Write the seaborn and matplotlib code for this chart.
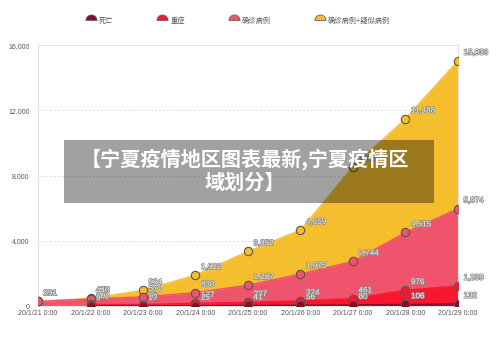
import numpy as np
import pandas as pd
import matplotlib
matplotlib.use("Agg")
import matplotlib.pyplot as plt
import matplotlib.patheffects as pe
from matplotlib.lines import Line2D
from matplotlib.path import Path
from matplotlib.patches import Rectangle
import seaborn as sns

# ---- data ----
dates = ["20/1/21 0:00", "20/1/22 0:00", "20/1/23 0:00", "20/1/24 0:00", "20/1/25 0:00",
         "20/1/26 0:00", "20/1/27 0:00", "20/1/28 0:00", "20/1/29 0:00"]
deaths = [np.nan, 9, 17, 25, 41, 56, 80, 106, 132]
severe = [np.nan, 102, 95, 177, 237, 324, 461, 976, 1239]
confirmed = [291, 440, 571, 830, 1287, 1975, 2744, 4515, 5974]
confirmed_suspected = [291, 477, 964, 1902, 3352, 4659, 8538, 11488, 15033]
series_names = ["死亡", "重症", "确诊病例", "确诊病例+疑似病例"]
y_ticks = [0, 4000, 8000, 12000, 16000]
title_lines = ["【宁夏疫情地区图表最新,宁夏疫情区", "域划分】"]

colors = {"死亡": "#8a0b28", "重症": "#f8172e", "确诊病例": "#f0546c", "确诊病例+疑似病例": "#f5be2c"}
values = {"死亡": deaths, "重症": severe, "确诊病例": confirmed, "确诊病例+疑似病例": confirmed_suspected}

sns.set_theme(style="white")
plt.rcParams["font.family"] = ["Liberation Sans", "Noto Sans CJK SC", "DejaVu Sans"]

fig = plt.figure(figsize=(5.0, 3.44), dpi=100)
ax = fig.add_axes([0.076, 0.110, 0.840, 0.759])

x = np.arange(len(dates))
draw_order = ["确诊病例+疑似病例", "确诊病例", "重症", "死亡"]
for i, name in enumerate(draw_order):
    v = np.array(values[name], dtype=float)
    ax.fill_between(x, 0, v, color=colors[name], linewidth=0, zorder=2 + i * 0.1)

for i, name in enumerate(draw_order):
    v = np.array(values[name], dtype=float)
    df = pd.DataFrame({"x": x, "y": v}).dropna()
    sns.lineplot(data=df, x="x", y="y", ax=ax, color=colors[name], linewidth=1.0,
                 marker="o", markersize=6, markerfacecolor=colors[name],
                 markeredgecolor="#555555", markeredgewidth=0.8, zorder=5 + i * 0.1)

for name in draw_order:
    for xi, val in zip(x, values[name]):
        if np.isnan(val):
            continue
        ax.annotate(f"{int(val):,}", (xi, val), xytext=(4, 5.5), textcoords="offset points",
                    ha="left", va="center", fontsize=5.8, color="#f2f2f2", zorder=10,
                    annotation_clip=False,
                    path_effects=[pe.withStroke(linewidth=1.0, foreground="#8a8a8a")])

ax.set_xlim(0, len(dates) - 1)
ax.set_ylim(0, 16000)
ax.set_xticks(x)
ax.set_xticklabels(dates)
ax.set_yticks(y_ticks)
ax.set_yticklabels([f"{t:,}" for t in y_ticks])
ax.set_xlabel("")
ax.set_ylabel("")
ax.tick_params(axis="x", length=0, pad=2.5, labelsize=5, labelcolor="#555555")
ax.tick_params(axis="y", length=0, pad=6, labelsize=5, labelcolor="#555555")
ax.yaxis.grid(True, linestyle=(0, (2, 2)), color="#dddddd", linewidth=0.7, zorder=1)
ax.xaxis.grid(False)
ax.set_axisbelow(True)
for s in ax.spines.values():
    s.set_color("#e2e2e2")
    s.set_linewidth(0.8)

# legend
semi = Path.wedge(0, 180)
handles = [Line2D([], [], linestyle="none", marker=semi, markersize=8,
                  markerfacecolor=colors[n], markeredgecolor="#666666", markeredgewidth=0.6)
           for n in series_names]
fig.legend(handles, series_names, loc="center", bbox_to_anchor=(0.478, 0.939), ncol=4,
           frameon=False, fontsize=5.2, labelcolor="#555555", handlelength=0.8,
           handletextpad=0.7, columnspacing=6.4)

# overlay banner
fig.patches.append(Rectangle((0.128, 0.410), 0.740, 0.183, transform=fig.transFigure,
                             facecolor="black", alpha=0.37, edgecolor="none", zorder=20))
fig.text(0.49, 1 - 159 / 344, title_lines[0], ha="center", va="center", color="white",
         fontsize=14.5, fontweight="bold", family=["Noto Sans CJK SC", "DejaVu Sans"], zorder=21)
fig.text(0.49, 1 - 182 / 344, title_lines[1], ha="center", va="center", color="white",
         fontsize=14.5, fontweight="bold", family=["Noto Sans CJK SC", "DejaVu Sans"], zorder=21)

fig.savefig("out.png", dpi=100)
